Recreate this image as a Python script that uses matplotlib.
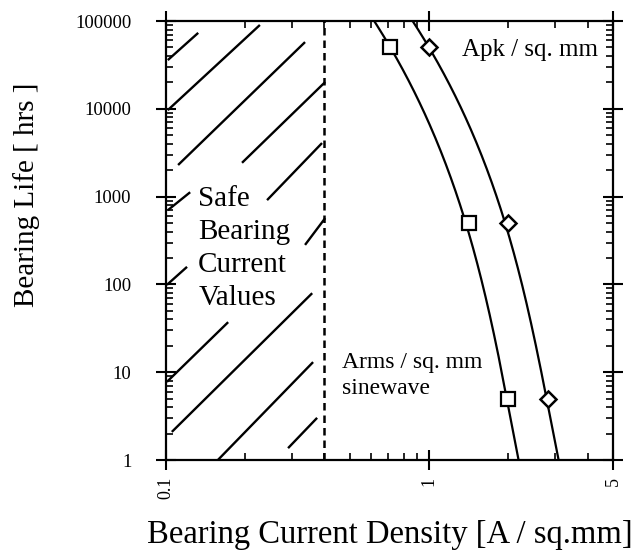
import numpy as np
import matplotlib
matplotlib.use("Agg")
import matplotlib.pyplot as plt

plt.rcParams['font.family'] = ['Liberation Serif', 'DejaVu Serif']

# curve readings (life in hours, current density A/sq.mm)
rms_life = [100000, 50000, 20000, 6500, 2100, 800, 500, 120, 35, 11, 5, 1]
rms_j = [0.62, 0.707, 0.846, 1.01, 1.17, 1.29, 1.41, 1.56, 1.73, 1.86, 2.0, 2.18]
pk_life = [100000, 50000, 17000, 6000, 2100, 500, 150, 45, 13, 5, 1]
pk_j = [0.87, 1.0, 1.20, 1.43, 1.655, 2.0, 2.15, 2.38, 2.60, 2.83, 3.10]

# measured points
pts_life = [50000, 500, 5]
rms_pts = [0.707, 1.414, 2.0]
pk_pts = [1.0, 2.0, 2.83]

safe_limit = 0.4

y_ticks = [1, 10, 100, 1000, 10000, 100000]
x_ticks = [0.1, 1, 5]
x_ticklabels = ['0.1', '1', '5']

# hatch strokes of the "safe" region, axes fraction (x0, y0, x1, y1)
hatch = [
    (0.004, 0.911, 0.072, 0.973),
    (0.004, 0.797, 0.210, 0.991),
    (0.027, 0.672, 0.311, 0.952),
    (0.170, 0.677, 0.356, 0.861),
    (0.226, 0.592, 0.349, 0.722),
    (0.004, 0.569, 0.054, 0.610),
    (0.311, 0.490, 0.356, 0.551),
    (0.002, 0.399, 0.047, 0.440),
    (0.002, 0.178, 0.139, 0.314),
    (0.013, 0.064, 0.327, 0.380),
    (0.116, 0.000, 0.329, 0.223),
    (0.273, 0.027, 0.338, 0.096),
]


def smooth_curve(life, j):
    # smooth fitted line through the read points, in log-log space
    lx = np.log10(life)
    ly = np.log10(j)
    c = np.polyfit(lx, ly, 3)
    xs = np.linspace(lx.min(), lx.max(), 200)
    return 10 ** np.polyval(c, xs), 10 ** xs


fig = plt.figure(figsize=(6.42, 5.59), dpi=100)
ax = fig.add_axes([0.2586, 0.1771, 0.6963, 0.7853])

for life, j in [(rms_life, rms_j), (pk_life, pk_j)]:
    cx, cy = smooth_curve(life, j)
    ax.plot(cx, cy, color='black', lw=1.6)
ax.plot(rms_pts, pts_life, ls='none', marker='s', ms=10, mfc='white',
        mec='black', mew=1.6)
ax.plot(pk_pts, pts_life, ls='none', marker='D', ms=8, mfc='white',
        mec='black', mew=1.8)

ax.axvline(safe_limit, color='black', lw=1.8, ls=(0, (3, 2)))

for x0, y0, x1, y1 in hatch:
    ax.plot([x0, x1], [y0, y1], color='black', lw=1.7,
            transform=ax.transAxes, solid_capstyle='butt')

ax.set_xscale('log')
ax.set_yscale('log')
ax.set_xlim(0.1, 5)
ax.set_ylim(1, 100000)

ax.set_yticks(y_ticks)
ax.set_yticklabels([str(v) for v in y_ticks], fontsize=13.5)
ax.set_xticks(x_ticks)
ax.set_xticklabels(x_ticklabels, rotation=90, fontsize=13)
ax.xaxis.set_minor_formatter(matplotlib.ticker.NullFormatter())
ax.yaxis.set_minor_formatter(matplotlib.ticker.NullFormatter())

ax.tick_params(which='major', direction='inout', length=14, width=1.5,
               top=True, right=True)
ax.tick_params(which='minor', direction='in', length=5, width=1.2,
               top=True, right=True)
ax.tick_params(axis='y', which='major', pad=18)
ax.tick_params(axis='x', which='major', pad=5)

for s in ax.spines.values():
    s.set_linewidth(1.6)

ax.text(0.072, 0.625, 'Safe\nBearing\nCurrent\nValues', transform=ax.transAxes,
        fontsize=21, ha='left', va='top', linespacing=1.36)
ax.text(0.662, 0.934, 'Apk / sq. mm', transform=ax.transAxes,
        fontsize=18, ha='left', va='center')
ax.text(0.394, 0.247, 'Arms / sq. mm\nsinewave', transform=ax.transAxes,
        fontsize=17, ha='left', va='top', linespacing=1.32)

ax.set_ylabel('Bearing Life [ hrs ]', fontsize=21, va='center')
ax.yaxis.set_label_coords(-0.311, 0.604)
ax.set_xlabel('Bearing Current Density [A / sq.mm]', fontsize=23.5)
ax.xaxis.set_label_coords(0.5, -0.135)

fig.savefig('out.png', dpi=100)
